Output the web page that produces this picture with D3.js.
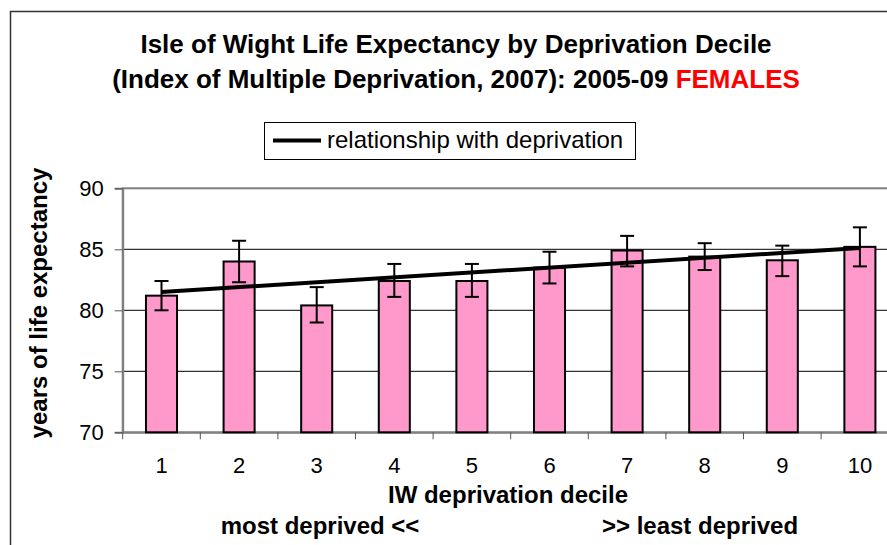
<!DOCTYPE html>
<html>
<head>
<meta charset="utf-8">
<script src="https://cdn.jsdelivr.net/npm/d3@7"></script>
<style>
  body { margin: 0; background: #fff; }
  svg { display: block; font-family: "Liberation Sans", Arial, sans-serif; }
</style>
</head>
<body>
<div id="chart"></div>
<script>
// data
const deciles = [1, 2, 3, 4, 5, 6, 7, 8, 9, 10];
const lifeExp = [81.2, 84.0, 80.4, 82.4, 82.4, 83.5, 84.9, 84.4, 84.1, 85.2];
const ciLower = [80.0, 82.3, 79.0, 81.1, 81.1, 82.2, 83.6, 83.3, 82.8, 83.6];
const ciUpper = [82.4, 85.7, 81.9, 83.8, 83.8, 84.8, 86.1, 85.5, 85.3, 86.8];
const trendDeciles = [1, 10];
const trendValues = [81.5, 85.1];
const yTicks = [70, 75, 80, 85, 90];

const width = 887;
const height = 545;

const svg = d3.select('#chart').append('svg')
    .attr('width', width)
    .attr('height', height);

// chart area border (runs off the right and bottom edges)
svg.append('rect')
    .attr('x', 10.5)
    .attr('y', 11.5)
    .attr('width', 900)
    .attr('height', 600)
    .attr('fill', '#fff')
    .attr('stroke', '#333')
    .attr('stroke-width', 1.5);

// title
const title = svg.append('text')
    .attr('text-anchor', 'middle')
    .attr('font-weight', 'bold')
    .attr('font-size', '26px');
title.append('tspan').attr('x', 456).attr('y', 53)
    .text('Isle of Wight Life Expectancy by Deprivation Decile');
const t2 = title.append('tspan').attr('x', 456).attr('y', 88);
t2.append('tspan').text('(Index of Multiple Deprivation, 2007): 2005-09 ');
t2.append('tspan').attr('fill', '#ff0000').text('FEMALES');

const plot = {left: 122.7, right: 898.7, top: 188.3, bottom: 432.3};

const x = d3.scaleBand()
    .domain(deciles)
    .range([plot.left, plot.right])
    .paddingInner(0.6)
    .paddingOuter(0.3);

const y = d3.scaleLinear()
    .domain([70, 90])
    .range([plot.bottom, plot.top]);

// gridlines
svg.append('g')
    .selectAll('line')
    .data(yTicks.filter(d => d > 70 && d < 90))
    .join('line')
    .attr('x1', plot.left)
    .attr('x2', plot.right)
    .attr('y1', d => y(d))
    .attr('y2', d => y(d))
    .attr('stroke', '#000')
    .attr('stroke-width', 1);

// plot area border
svg.append('rect')
    .attr('x', plot.left)
    .attr('y', plot.top)
    .attr('width', plot.right - plot.left)
    .attr('height', plot.bottom - plot.top)
    .attr('fill', 'none')
    .attr('stroke', '#808080')
    .attr('stroke-width', 2);

// y axis
const yAxis = svg.append('g')
    .attr('transform', `translate(${plot.left},0)`)
    .call(d3.axisLeft(y).tickValues(yTicks).tickSize(8).tickPadding(11));
yAxis.select('.domain').attr('stroke', '#808080').attr('stroke-width', 2);
yAxis.selectAll('.tick line').attr('stroke', '#555');
yAxis.selectAll('text')
    .attr('font-family', '"Liberation Sans", Arial, sans-serif')
    .attr('font-size', '22px')
    .attr('fill', '#000');

// x axis: labels at centres, ticks at category boundaries
const xAxis = svg.append('g')
    .attr('transform', `translate(0,${plot.bottom})`)
    .call(d3.axisBottom(x).tickSize(0).tickPadding(25));
xAxis.select('.domain').attr('stroke', '#808080').attr('stroke-width', 2);
xAxis.selectAll('text')
    .attr('font-family', '"Liberation Sans", Arial, sans-serif')
    .attr('font-size', '22px')
    .attr('fill', '#000');
xAxis.selectAll('.boundary')
    .data(deciles)
    .join('line')
    .attr('class', 'boundary')
    .attr('x1', d => x(d) - x.step() * x.paddingInner() / 2)
    .attr('x2', d => x(d) - x.step() * x.paddingInner() / 2)
    .attr('y1', 0)
    .attr('y2', 7)
    .attr('stroke', '#555');

// bars
svg.append('g')
    .selectAll('rect')
    .data(deciles)
    .join('rect')
    .attr('x', d => x(d))
    .attr('y', (d, i) => y(lifeExp[i]))
    .attr('width', x.bandwidth())
    .attr('height', (d, i) => y(70) - y(lifeExp[i]))
    .attr('fill', '#ff99cc')
    .attr('stroke', '#000')
    .attr('stroke-width', 2);

// error bars
const err = svg.append('g').attr('stroke', '#000').attr('stroke-width', 2);
const cx = d => x(d) + x.bandwidth() / 2;
err.selectAll('.stem')
    .data(deciles)
    .join('line')
    .attr('class', 'stem')
    .attr('x1', cx).attr('x2', cx)
    .attr('y1', (d, i) => y(ciLower[i]))
    .attr('y2', (d, i) => y(ciUpper[i]));
[ciLower, ciUpper].forEach(arr => {
    err.append('g')
        .selectAll('line')
        .data(deciles)
        .join('line')
        .attr('x1', d => cx(d) - 7)
        .attr('x2', d => cx(d) + 7)
        .attr('y1', (d, i) => y(arr[i]))
        .attr('y2', (d, i) => y(arr[i]));
});

// trend line
const line = d3.line()
    .x(d => cx(d[0]))
    .y(d => y(d[1]));
svg.append('path')
    .datum(trendDeciles.map((d, i) => [d, trendValues[i]]))
    .attr('d', line)
    .attr('fill', 'none')
    .attr('stroke', '#000')
    .attr('stroke-width', 4);

// legend
const legend = svg.append('g');
legend.append('rect')
    .attr('x', 264.5)
    .attr('y', 122.5)
    .attr('width', 371)
    .attr('height', 37)
    .attr('fill', '#fff')
    .attr('stroke', '#000')
    .attr('stroke-width', 1);
legend.append('line')
    .attr('x1', 273).attr('x2', 321)
    .attr('y1', 140.5).attr('y2', 140.5)
    .attr('stroke', '#000')
    .attr('stroke-width', 4);
legend.append('text')
    .attr('x', 327)
    .attr('y', 148)
    .attr('font-size', '24px')
    .text('relationship with deprivation');

// axis titles
svg.append('text')
    .attr('transform', 'translate(47,303) rotate(-90)')
    .attr('text-anchor', 'middle')
    .attr('font-weight', 'bold')
    .attr('font-size', '24px')
    .text('years of life expectancy');

svg.append('text')
    .attr('x', 508)
    .attr('y', 503)
    .attr('text-anchor', 'middle')
    .attr('font-weight', 'bold')
    .attr('font-size', '24px')
    .text('IW deprivation decile');

svg.append('text')
    .attr('x', 320)
    .attr('y', 534)
    .attr('text-anchor', 'middle')
    .attr('font-weight', 'bold')
    .attr('font-size', '24px')
    .text('most deprived <<');

svg.append('text')
    .attr('x', 700)
    .attr('y', 534)
    .attr('text-anchor', 'middle')
    .attr('font-weight', 'bold')
    .attr('font-size', '24px')
    .text('>> least deprived');
</script>
</body>
</html>
